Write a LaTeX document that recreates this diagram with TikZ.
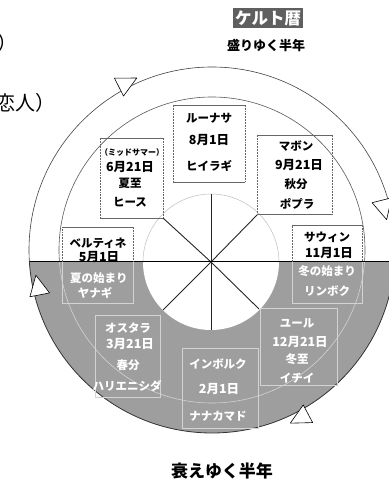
\documentclass[tikz,border=0pt]{standalone}
\usepackage{fontspec}
\newfontfamily\jp{Noto Sans CJK JP}
\definecolor{diskgray}{RGB}{158,158,158}
\definecolor{titlegray}{RGB}{95,95,95}
\newcommand\ringtri[3]{\begin{scope}[shift={(#1,#2)},rotate=#3]\draw[tri] (11,0) -- (-9,10) -- (-9,-10) -- cycle;\end{scope}}
\newcommand\upbox[1]{%
  \draw[ubox] (#1.north west) -- (#1.north east);
  \draw[ubox] (#1.south west) -- (#1.south east);
  \draw[ubox, densely dotted] (#1.north west) -- (#1.south west);
  \draw[ubox, densely dotted] (#1.north east) -- (#1.south east);}
\begin{document}
\begin{tikzpicture}[x=1pt,y=1pt,
  lbl/.style={font=\jp\bfseries\fontsize{11.5}{12}\selectfont, inner sep=0pt, text=black},
  datel/.style={lbl, font=\jp\bfseries\fontsize{12.5}{13}\selectfont},
  wlbl/.style={lbl, text=white},
  wdatel/.style={datel, text=white},
  boxn/.style={draw=none, inner sep=0pt},
  ubox/.style={draw=black!60, line width=0.55pt},
  lbox/.style={draw=white!55!diskgray, line width=0.6pt},
  tri/.style={draw=black, fill=white, line width=0.6pt, line join=round}]
\useasboundingbox (0,0) rectangle (389,491);
\coordinate (O) at (212,241);
\coordinate (H) at (211,229);
\coordinate (midL) at (0,229);

% lower (grey) half
\begin{scope}
  \clip (0,0) rectangle (389,229);
  \fill[diskgray] (O) circle (183);
  \draw[white!55!diskgray, line width=0.6pt] (O) circle (153);
  \draw[black!80, line width=0.8pt] (O) circle (183);
\end{scope}
% upper (white) half
\begin{scope}
  \clip (0,229) rectangle (389,491);
  \draw[black!75, line width=0.6pt] (O) circle (183);
  \draw[black!65, line width=0.6pt] (O) circle (153);
\end{scope}

% hub
\fill[white] (H) circle (68);
\begin{scope}
  \clip (0,229) rectangle (389,491);
  \draw[black!25, line width=0.5pt] (H) circle (68);
\end{scope}
\draw[black!85, line width=0.9pt] (H) -- (211,297);
\draw[black!85, line width=0.9pt] (H) -- (211,161);
\draw[black!85, line width=0.9pt] (H) -- (163,273);
\draw[black!85, line width=0.9pt] (H) -- (258,277);
\draw[black!85, line width=0.9pt] (H) -- (163,181);
\draw[black!85, line width=0.9pt] (H) -- (259,182);
\draw[black, line width=1pt] (30,229) -- (389,229);

% upper boxes
\node[boxn, minimum width=72pt, minimum height=77pt] (lunasabox) at (209,347.5) {};
\upbox{lunasabox}
\node[boxn, minimum width=63pt, minimum height=80pt] (midbox) at (131.5,313) {};
\upbox{midbox}
\node[boxn, minimum width=75pt, minimum height=79pt] (mabonbox) at (294.5,316.5) {};
\upbox{mabonbox}
% boxes across the line
\node[boxn, minimum width=70pt, minimum height=78pt] (sawinbox) at (327,227) {};
\draw[ubox, densely dotted] (sawinbox.west |- midL) -- (sawinbox.north west);
\draw[ubox] (sawinbox.north west) -- (sawinbox.north east);
\draw[ubox, densely dotted] (sawinbox.north east) -- (sawinbox.east |- midL);
\draw[lbox] (sawinbox.west |- midL) -- (sawinbox.south west) -- (sawinbox.south east) -- (sawinbox.east |- midL);
\node[boxn, minimum width=71pt, minimum height=76pt] (beltbox) at (97.5,226) {};
\draw[ubox, densely dotted] (beltbox.west |- midL) -- (beltbox.north west);
\draw[ubox] (beltbox.north west) -- (beltbox.north east);
\draw[ubox, densely dotted] (beltbox.north east) -- (beltbox.east |- midL);
\draw[lbox] (beltbox.west |- midL) -- (beltbox.south west) -- (beltbox.south east) -- (beltbox.east |- midL);
% lower boxes
\node[boxn, lbox, minimum width=65pt, minimum height=82pt] (ostarabox) at (127.5,135) {};
\node[boxn, lbox, minimum width=76pt, minimum height=80pt] (imbolcbox) at (220,103) {};
\node[boxn, lbox, minimum width=77pt, minimum height=77pt] (yulebox) at (298.5,144.5) {};

% texts upper
\node[lbl] (t1a) at (209,373) {ルーナサ};
\node[datel] (t1b) at (209,351) {8月1日};
\node[lbl] (t1c) at (209,325) {ヒイラギ};
\node[lbl, font=\jp\bfseries\fontsize{8}{8}\selectfont] (t2a) at (132,339) {（ミッドサマー）};
\node[datel] (t2b) at (130,324) {6月21日};
\node[lbl] (t2c) at (130,308) {夏至};
\node[lbl] (t2d) at (130,289) {ヒース};
\node[lbl] (t3a) at (296,345) {マボン};
\node[datel] (t3b) at (299,326) {9月21日};
\node[lbl] (t3c) at (296,307) {秋分};
\node[lbl] (t3d) at (297,287) {ポプラ};
\node[lbl] (t4a) at (327,254) {サウィン};
\node[datel] (t4b) at (329,238) {11月1日};
\node[wlbl] (t4c) at (327,220) {冬の始まり};
\node[wlbl] (t4d) at (327,200) {リンボク};
\node[lbl] (t5a) at (98,248) {ベルティネ};
\node[datel] (t5b) at (99,234) {5月1日};
\node[wlbl] (t5c) at (99,213) {夏の始まり};
\node[wlbl] (t5d) at (95,198) {ヤナギ};
% texts lower
\node[wlbl] (t6a) at (128,163) {オスタラ};
\node[wdatel] (t6b) at (130,147) {3月21日};
\node[wlbl] (t6c) at (128,126) {春分};
\node[wlbl] (t6d) at (127,105) {ハリエニシダ};
\node[wlbl] (t7a) at (218,127) {インボルク};
\node[wdatel] (t7b) at (219,102) {2月1日};
\node[wlbl] (t7c) at (218,75) {ナナカマド};
\node[wlbl] (t8a) at (297,168) {ユール};
\node[wdatel] (t8b) at (300,149) {12月21日};
\node[wlbl] (t8c) at (297,132) {冬至};
\node[wlbl] (t8d) at (297,113) {イチイ};

% ring arrows (clockwise)
\ringtri{127}{408}{27}
\ringtri{384}{282}{-76}
\ringtri{300}{73}{-152}
\ringtri{38}{205}{101}

% titles
\node[fill=titlegray, text=white, inner sep=2pt, font=\jp\bfseries\fontsize{16.5}{17}\selectfont] (title) at (268,473) {ケルト暦};
\node[inner sep=0pt, font=\jp\bfseries\fontsize{13}{13}\selectfont] (waxing) at (266,445) {盛りゆく半年};
\node[inner sep=0pt, font=\jp\bfseries\fontsize{17}{17}\selectfont] (waning) at (222,20) {衰えゆく半年};

% cropped fragments at left edge
\node[anchor=west, inner sep=0pt, font=\jp\fontsize{20}{20}\selectfont] (frag1) at (-3,448) {）};
\node[anchor=west, inner sep=0pt, font=\jp\fontsize{20}{20}\selectfont] (frag2) at (-5,388) {恋人）};
\end{tikzpicture}
\end{document}
